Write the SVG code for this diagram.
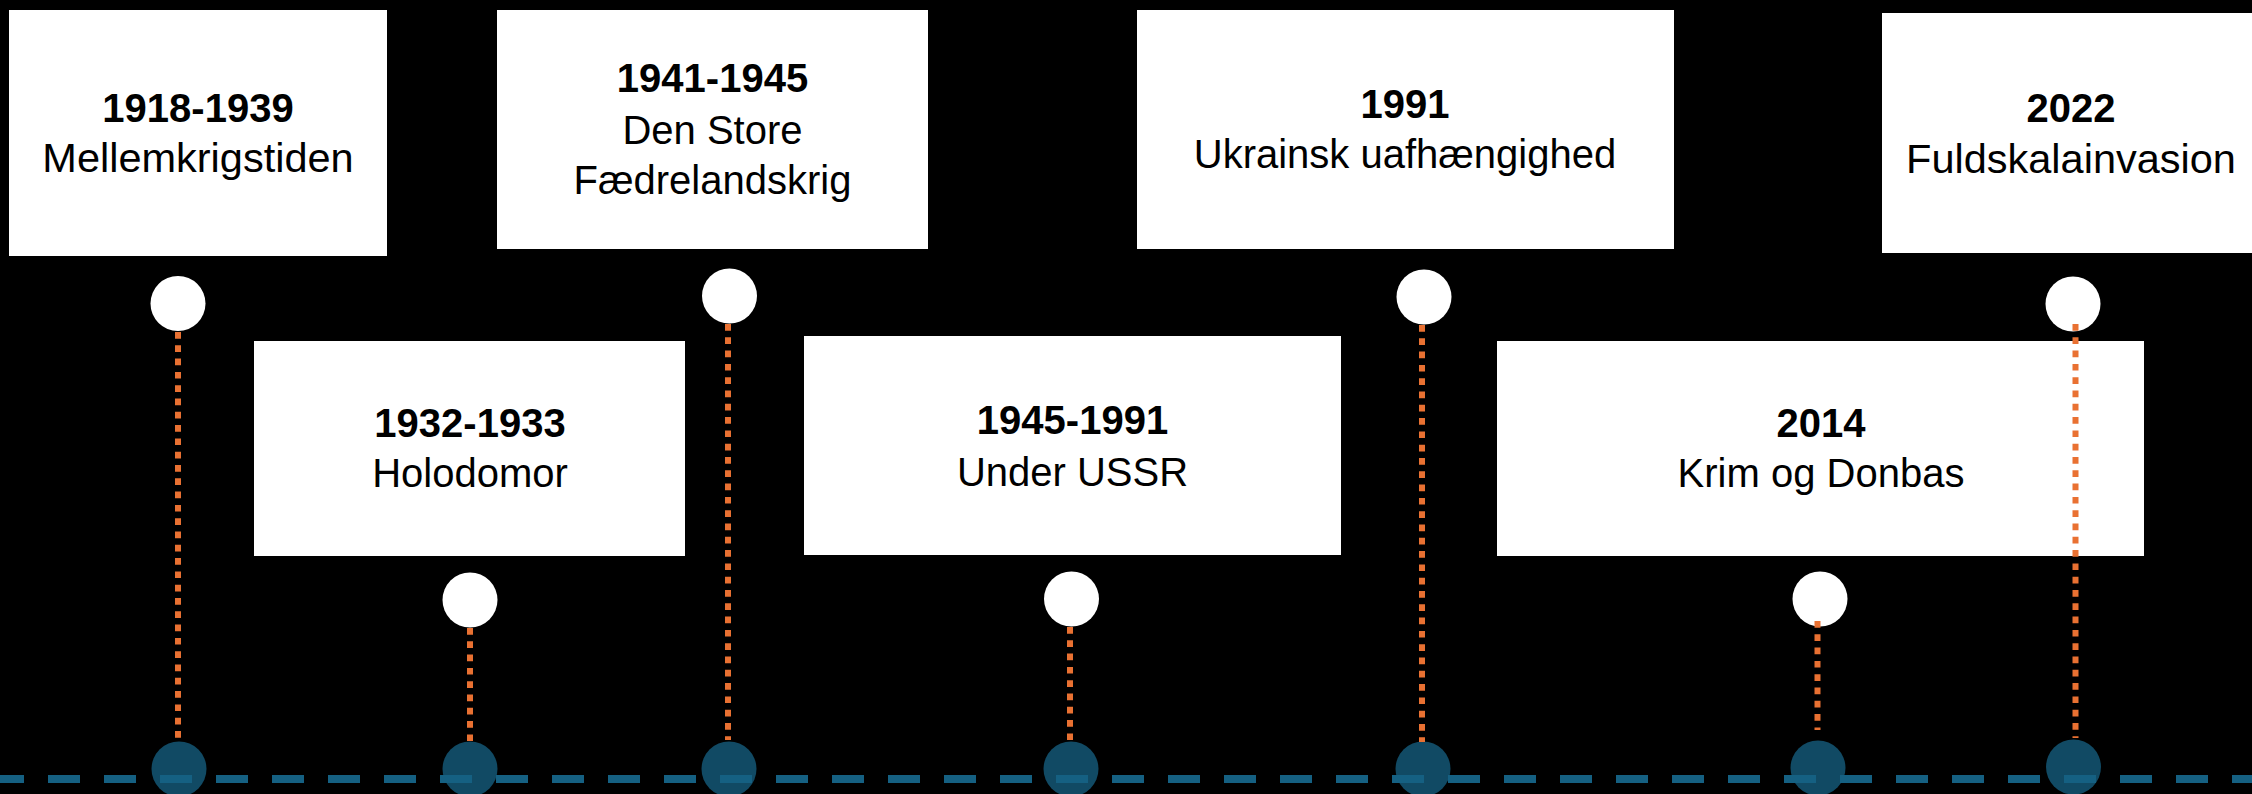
<svg xmlns="http://www.w3.org/2000/svg" width="2252" height="794" viewBox="0 0 2252 794">
  <style>
    .box { fill: #FFFFFF; }
    .dot { fill: #FFFFFF; }
    .base { fill: #114A64; }
    .t { font-family: "Liberation Sans", Arial, sans-serif; font-size: 40px; fill: #000000; text-anchor: middle; }
    .w { font-size: 41.5px; }
    .b { font-weight: bold; }
    .stem { stroke: #E97132; stroke-width: 6; stroke-dasharray: 6.7 6.6; fill: none; }
    .axis { stroke: #156082; stroke-width: 8; stroke-dasharray: 32 24; fill: none; }
  </style>
  <rect x="0" y="0" width="2252" height="794" fill="#000000"/>

  <g id="node-1918">
    <rect class="box" x="9" y="10" width="378" height="246"/>
    <text class="t b" x="198" y="122">1918-1939</text>
    <text class="t w" x="198" y="172">Mellemkrigstiden</text>
    <circle class="dot" cx="178" cy="303.5" r="27.5"/>
    <circle class="base" cx="179" cy="769" r="27.5"/>
  </g>

  <g id="node-1932">
    <rect class="box" x="254" y="341" width="431" height="215"/>
    <text class="t b" x="470" y="437">1932-1933</text>
    <text class="t" x="470" y="487">Holodomor</text>
    <circle class="dot" cx="470" cy="600" r="27.5"/>
    <circle class="base" cx="470" cy="769" r="27.5"/>
  </g>

  <g id="node-1941">
    <rect class="box" x="497" y="10" width="431" height="239"/>
    <text class="t b" x="712.5" y="92">1941-1945</text>
    <text class="t" x="712.5" y="144">Den Store</text>
    <text class="t" x="712.5" y="194">Fædrelandskrig</text>
    <circle class="dot" cx="729.5" cy="296" r="27.5"/>
    <circle class="base" cx="729" cy="769" r="27.5"/>
  </g>

  <g id="node-1945">
    <rect class="box" x="804" y="336" width="537" height="219"/>
    <text class="t b" x="1072.5" y="434">1945-1991</text>
    <text class="t" x="1072.5" y="486">Under USSR</text>
    <circle class="dot" cx="1071.5" cy="599" r="27.5"/>
    <circle class="base" cx="1071" cy="769" r="27.5"/>
  </g>

  <g id="node-1991">
    <rect class="box" x="1137" y="10" width="537" height="239"/>
    <text class="t b" x="1405" y="118">1991</text>
    <text class="t" x="1405" y="168">Ukrainsk uafhængighed</text>
    <circle class="dot" cx="1424" cy="297" r="27.5"/>
    <circle class="base" cx="1423" cy="769" r="27.5"/>
  </g>

  <g id="node-2014">
    <rect class="box" x="1497" y="341" width="647" height="215"/>
    <text class="t b" x="1821" y="437">2014</text>
    <text class="t" x="1821" y="487">Krim og Donbas</text>
    <circle class="dot" cx="1820" cy="599" r="27.5"/>
    <circle class="base" cx="1818" cy="768" r="27.5"/>
  </g>

  <g id="node-2022">
    <rect class="box" x="1882" y="13" width="378" height="240"/>
    <text class="t b" x="2071" y="122">2022</text>
    <text class="t w" x="2071" y="173">Fuldskalainvasion</text>
    <circle class="dot" cx="2073" cy="304" r="27.5"/>
    <circle class="base" cx="2073.5" cy="767" r="27.5"/>
  </g>

  <g id="connectors">
    <line class="stem" x1="178" y1="332" x2="178" y2="742"/>
    <line class="stem" x1="470" y1="628" x2="470" y2="742"/>
    <line class="stem" x1="728" y1="324" x2="728" y2="740"/>
    <line class="stem" x1="1070" y1="627" x2="1070" y2="742"/>
    <line class="stem" x1="1422" y1="325" x2="1422" y2="742"/>
    <line class="stem" x1="1817.5" y1="621" x2="1817.5" y2="730"/>
    <line class="stem" x1="2075.5" y1="324" x2="2075.5" y2="738"/>
    <line class="axis" x1="-8" y1="779" x2="2260" y2="779"/>
  </g>
</svg>
